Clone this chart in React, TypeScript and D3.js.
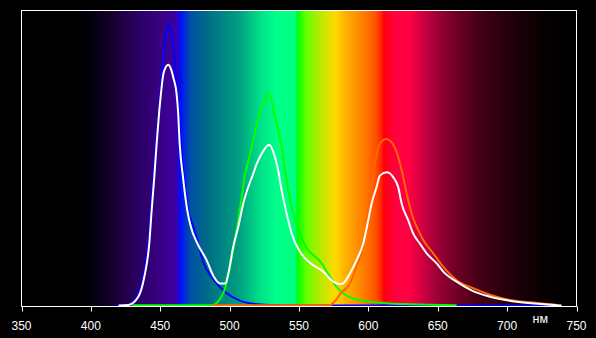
import React from "react";
import * as d3 from "d3";

// x-axis ticks (nm)
const xTicks = [350, 400, 450, 500, 550, 600, 650, 700, 750];
const unitLabel = "нм";

// Spectrum background: [wavelength, colour]
const spectrumStops: [number, string][] = [
  [350, "#000000"], [392, "#000000"], [400, "#04000c"], [416, "#160030"],
  [433, "#2a0060"], [452, "#3a0088"], [461, "#3c00a0"], [463.5, "#1808d8"],
  [465, "#0010ff"], [468, "#0030d0"], [472, "#0050a8"], [483, "#006a88"],
  [507, "#00a080"], [522, "#00e088"], [534, "#00ff88"], [547.5, "#00ff80"],
  [549, "#00ff00"], [555, "#60ff00"], [562, "#a0f000"], [571.6, "#e0e000"],
  [576.6, "#ffd800"], [583.7, "#ffb000"], [596, "#ff8000"], [605.4, "#ff5000"],
  [609.7, "#ff2000"], [611, "#ff0010"], [619.8, "#ff0040"], [629, "#ff0040"],
  [639, "#d00040"], [649, "#a00038"], [663, "#700028"], [675, "#500018"],
  [692, "#300010"], [711, "#180008"], [725.7, "#080000"], [740, "#000000"],
  [750, "#000000"],
];

// Blue LED component: [wavelength, relative intensity]
const blueSeries: [number, number][] = [
  [418, 0.003], [427, 0.005], [433, 0.033], [437.8, 0.1], [441.4, 0.214],
  [443.3, 0.325], [445.0, 0.438], [446.9, 0.551], [449.1, 0.663], [451.0, 0.775],
  [452.7, 0.865], [454.5, 0.93], [456.3, 0.955], [457.8, 0.93], [459.4, 0.889],
  [461.1, 0.775], [463.0, 0.663], [464.7, 0.551], [467.1, 0.438], [470.2, 0.325],
  [473.5, 0.275], [477.4, 0.214], [481.0, 0.15], [487.0, 0.1], [493.0, 0.066],
  [497.9, 0.045], [507.4, 0.02], [519.5, 0.008], [538.6, 0.004], [600, 0.003],
  [700, 0.003], [736, 0.003],
];

// Green component
const greenSeries: [number, number][] = [
  [430, 0.004], [487, 0.004], [493.0, 0.025], [496.6, 0.06], [500.2, 0.134],
  [503.8, 0.224], [506.2, 0.292], [508.7, 0.37], [511.0, 0.445], [513.4, 0.49],
  [515.9, 0.539], [518.0, 0.584], [520.2, 0.629], [522.8, 0.674], [525.5, 0.697],
  [527.8, 0.719], [530.3, 0.697], [532.2, 0.652], [535.0, 0.596], [537.5, 0.539],
  [539.9, 0.465], [542.3, 0.393], [545.8, 0.314], [550.7, 0.247], [556.7, 0.19],
  [560.3, 0.174], [566.3, 0.146], [572.3, 0.1], [577.1, 0.066], [581.9, 0.044],
  [589.1, 0.027], [601.1, 0.016], [613.1, 0.011], [629.9, 0.0075], [663.6, 0.004],
];

// Red (orange-drawn) component
const redSeries: [number, number][] = [
  [487, 0.004], [571.6, 0.004], [576.6, 0.022], [580.2, 0.045], [586.7, 0.078],
  [591.5, 0.135], [596.3, 0.202], [599.9, 0.314], [602.3, 0.404], [604.7, 0.483],
  [608.3, 0.551], [613.1, 0.567], [616.8, 0.556], [620.4, 0.522], [624.0, 0.461],
  [627.6, 0.382], [631.2, 0.314], [634.8, 0.27], [639.5, 0.225], [646.7, 0.18],
  [653.9, 0.135], [663.6, 0.089], [675.5, 0.062], [687.6, 0.04], [702.0, 0.022],
  [721.2, 0.012], [735.6, 0.006],
];

// Total (white) spectrum
const whiteSeries: [number, number][] = [
  [420, 0.003], [427, 0.005], [434.2, 0.033], [438.5, 0.1], [442.1, 0.214],
  [443.8, 0.325], [445.7, 0.438], [447.4, 0.551], [449.3, 0.663], [450.5, 0.72],
  [452.0, 0.78], [452.9, 0.798], [455.8, 0.818], [457.7, 0.804], [459.4, 0.775],
  [461.8, 0.719], [462.8, 0.663], [464.0, 0.551], [466.4, 0.438], [469.5, 0.325],
  [472.1, 0.269], [476.7, 0.214], [483.4, 0.157], [488.7, 0.1], [493.0, 0.078],
  [497.0, 0.078], [499.0, 0.11], [502.6, 0.202], [506.2, 0.269], [509.8, 0.348],
  [513.4, 0.404], [517.0, 0.449], [519.5, 0.483], [523.1, 0.517], [528.6, 0.547],
  [531.9, 0.517], [535.0, 0.46], [537.5, 0.393], [541.1, 0.314], [544.7, 0.247],
  [550.7, 0.185], [557.9, 0.148], [567.5, 0.118], [574.7, 0.084], [579.5, 0.076],
  [581.7, 0.078], [586.7, 0.112], [591.5, 0.157], [596.3, 0.213], [599.9, 0.292],
  [602.3, 0.348], [605.9, 0.404], [608.3, 0.443], [613.1, 0.454], [617.9, 0.438],
  [621.5, 0.404], [624.0, 0.348], [628.7, 0.292], [632.3, 0.247], [637.1, 0.213],
  [642.0, 0.18], [649.2, 0.146], [655.2, 0.112], [663.6, 0.084], [675.5, 0.052],
  [687.6, 0.033], [706.8, 0.016], [726.0, 0.0075], [739.2, 0.003],
];

const W = 596;
const H = 338;
const left = 21.5;
const right = 576.5;
const top = 10.5;
const bottom = 306.5;

export default function App() {
  const x = d3.scaleLinear().domain([350, 750]).range([left, right]);
  const y = d3.scaleLinear().domain([0, 1]).range([bottom, top + 0.5]);
  const line = d3
    .line<[number, number]>()
    .x((d) => x(d[0]))
    .y((d) => y(d[1]))
    .curve(d3.curveMonotoneX);

  const series: { data: [number, number][]; color: string }[] = [
    { data: blueSeries, color: "#0000ff" },
    { data: greenSeries, color: "#00ff00" },
    { data: redSeries, color: "#ff6600" },
    { data: whiteSeries, color: "#ffffff" },
  ];

  return (
    <svg
      width={W}
      height={H}
      style={{ position: "absolute", left: 0, top: 0, background: "#000" }}
      fontFamily="'Liberation Sans', Arial, sans-serif"
    >
      <defs>
        <linearGradient
          id="spec"
          gradientUnits="userSpaceOnUse"
          x1={x(350)}
          x2={x(750)}
          y1={0}
          y2={0}
        >
          {spectrumStops.map(([w, c], i) => (
            <stop key={i} offset={(w - 350) / 400} stopColor={c} />
          ))}
        </linearGradient>
        <clipPath id="plot">
          <rect x={left} y={top} width={right - left} height={bottom - top} />
        </clipPath>
      </defs>
      <rect width={W} height={H} fill="#000" />
      <rect
        x={left}
        y={top}
        width={right - left}
        height={bottom - top}
        fill="url(#spec)"
      />
      <g clipPath="url(#plot)">
        {series.map((s, i) => (
          <path
            key={i}
            d={line(s.data) || ""}
            fill="none"
            stroke={s.color}
            strokeWidth={2}
            strokeLinejoin="round"
          />
        ))}
      </g>
      <rect
        x={left}
        y={top}
        width={right - left}
        height={bottom - top}
        fill="none"
        stroke="#fff"
        strokeWidth={1}
      />
      {xTicks.map((t) => (
        <g key={t}>
          <line
            x1={Math.round(x(t)) + 0.5}
            x2={Math.round(x(t)) + 0.5}
            y1={bottom}
            y2={bottom + 5}
            stroke="#fff"
            strokeWidth={1}
          />
          <text
            x={x(t)}
            y={330}
            fill="#fff"
            fontSize={12}
            textAnchor="middle"
          >
            {t}
          </text>
        </g>
      ))}
      <text x={532.5} y={322.7} fill="#fff" fontSize={12.5}>
        {unitLabel}
      </text>
    </svg>
  );
}
